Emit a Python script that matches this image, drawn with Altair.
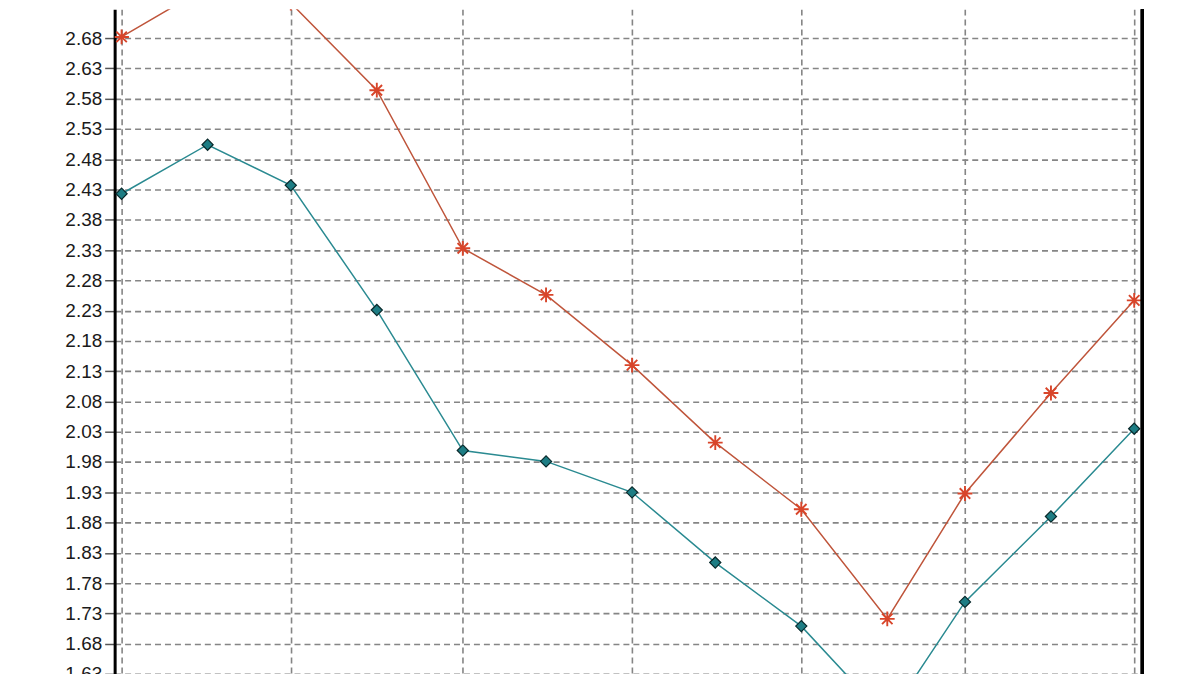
import altair as alt
import pandas as pd

# ---- data (monthly points, grid every two months) ----
months = ["2010-05-01", "2010-06-01", "2010-07-01", "2010-08-01", "2010-09-01",
          "2010-10-01", "2010-11-01", "2010-12-01", "2011-01-01", "2011-02-01",
          "2011-03-01", "2011-04-01", "2011-05-01"]
teal_values = [2.423, 2.504, 2.437, 2.231, 1.999, 1.981, 1.930, 1.814, 1.709, 1.556, 1.749, 1.890, 2.035]
red_values = [2.682, 2.765, 2.738, 2.594, 2.333, 2.256, 2.140, 2.012, 1.902, 1.721, 1.928, 2.094, 2.247]
y_tick_values = [1.63, 1.68, 1.73, 1.78, 1.83, 1.88, 1.93, 1.98, 2.03, 2.08, 2.13, 2.18,
                 2.23, 2.28, 2.33, 2.38, 2.43, 2.48, 2.53, 2.58, 2.63, 2.68, 2.73]
x_grid_dates = [(2010, 5), (2010, 7), (2010, 9), (2010, 11), (2011, 1), (2011, 3), (2011, 5)]

teal_df = pd.DataFrame({"date": months, "y": teal_values})
red_df = pd.DataFrame({"date": months, "y": red_values})

W, H = 1031, 680
x_scale = alt.Scale(
    type="utc",
    domain=[alt.DateTime(year=2010, month=4, date=28, hours=12, utc=True),
            alt.DateTime(year=2011, month=5, date=3, hours=21, utc=True)],
    nice=False,
)
y_scale = alt.Scale(domain=[1.6087, 2.7279], nice=False, zero=False)

x_axis = alt.Axis(values=[alt.DateTime(year=yy, month=mm, date=1, utc=True) for yy, mm in x_grid_dates],
                  labels=False, ticks=False, domain=False, title=None,
                  grid=True, gridColor="#858585", gridDash=[6, 4], gridWidth=1.6)
y_axis = alt.Axis(values=y_tick_values, format=".2f", title=None,
                  labelFont="Liberation Sans", labelFontSize=19, labelColor="#1a1a1a",
                  labelPadding=3, tickSize=10, tickColor="#555555", tickWidth=1.5,
                  domain=True, domainColor="#000000", domainWidth=3,
                  grid=True, gridColor="#858585", gridDash=[6, 4], gridWidth=1.6)

X = alt.X("date:T", scale=x_scale, axis=x_axis)
Y = alt.Y("y:Q", scale=y_scale, axis=y_axis)

star = "M-1,0L1,0M0,-1L0,1M-0.71,-0.71L0.71,0.71M-0.71,0.71L0.71,-0.71"

teal_line = alt.Chart(teal_df).mark_line(color="#2a8a91", strokeWidth=1.5, clip=True).encode(x=X, y=Y)
red_line = alt.Chart(red_df).mark_line(color="#bf553b", strokeWidth=1.5, clip=True).encode(x=X, y=Y)
teal_pts = alt.Chart(teal_df).mark_point(shape="diamond", filled=True, fill="#1d7d84",
                                         stroke="#0a2a2c", strokeWidth=1.2, size=125,
                                         opacity=1, clip=True).encode(x=X, y=Y)
red_pts = alt.Chart(red_df).mark_point(shape=star, filled=False, stroke="#d8452a",
                                       strokeWidth=1.9, size=220, opacity=1,
                                       clip=True).encode(x=X, y=Y)

right_border = alt.Chart(teal_df).mark_rule(color="#000000", strokeWidth=2.5).encode(
    x=alt.value(W), y=alt.value(0), y2=alt.value(H))

chart = alt.layer(teal_line, red_line, teal_pts, red_pts, right_border).properties(
    width=W, height=H,
    autosize=alt.AutoSizeParams(type="none"),
    padding={"left": 107, "top": 0, "right": 50, "bottom": 0},
    background="white",
).configure_view(stroke=None)

chart.save("out.html", embed_options={"renderer": "svg", "actions": False})
